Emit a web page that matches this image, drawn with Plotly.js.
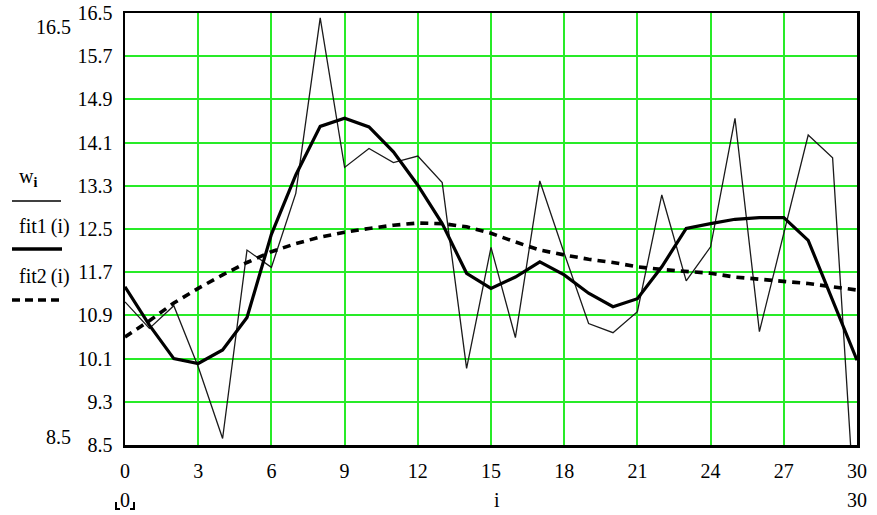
<!DOCTYPE html>
<html>
<head>
<meta charset="utf-8">
<script src="https://cdn.plot.ly/plotly-3.0.1.min.js"></script>
<style>html,body{margin:0;padding:0;background:#fff;}#chart{width:877px;height:515px;}</style>
</head>
<body>
<div id="chart"></div>
<script>
// ---- data ----
const idx = [0,1,2,3,4,5,6,7,8,9,10,11,12,13,14,15,16,17,18,19,20,21,22,23,24,25,26,27,28,29,30];
const w = [11.15,10.66,11.08,9.95,8.62,12.11,11.79,13.16,16.41,13.64,13.99,13.73,13.85,13.36,9.92,12.16,10.49,13.39,12.05,10.75,10.58,10.97,13.13,11.54,12.17,14.55,10.6,12.4,14.24,13.82,6.6];
const fit1 = [11.43,10.72,10.1,10.01,10.26,10.86,12.4,13.5,14.4,14.55,14.39,13.93,13.31,12.6,11.68,11.4,11.61,11.89,11.65,11.31,11.06,11.21,11.8,12.51,12.6,12.68,12.71,12.71,12.29,11.19,10.07];
const fit2 = [10.5,10.8,11.13,11.4,11.65,11.88,12.08,12.23,12.35,12.44,12.51,12.57,12.61,12.6,12.54,12.42,12.26,12.11,12.02,11.94,11.88,11.8,11.75,11.71,11.68,11.61,11.57,11.52,11.49,11.43,11.37];
const yTicks = [8.5,9.3,10.1,10.9,11.7,12.5,13.3,14.1,14.9,15.7,16.5];
const yTickText = ["8.5","9.3","10.1","10.9","11.7","12.5","13.3","14.1","14.9","15.7","16.5"];
const xTicks = [0,3,6,9,12,15,18,21,24,27,30];
const legendLabels = ["w<sub><b>i</b></sub>","fit1\u2009(i)","fit2\u2009(i)"];
const xLimits = ["0","30"];
const yLimits = ["16.5","8.5"];
const xName = "i";

// ---- layout helpers (pixel -> paper) ----
const L=125, R=857, T=13, B=445;
const px = x => (x-L)/(R-L);
const py = y => (B-y)/(B-T);
const FONT = "Liberation Serif";
const FS = 20;

const traces = [
  {x: idx, y: w, mode: 'lines', line: {color: '#1a1a1a', width: 1.3}, hoverinfo: 'skip'},
  {x: idx, y: fit1, mode: 'lines', line: {color: '#000', width: 3.2}, hoverinfo: 'skip'},
  {x: idx, y: fit2, mode: 'lines', line: {color: '#000', width: 3.6, dash: '8px,6px'}, hoverinfo: 'skip'}
];

const ann = (text, x, y, xa) => ({text, xref:'paper', yref:'paper', x: px(x), y: py(y), xanchor: xa, yanchor:'middle', showarrow:false, font:{family:FONT, size:FS, color:'#000'}});

const axisCommon = {
  showgrid: true, gridcolor: 'rgb(40,235,40)', gridwidth: 2,
  showline: true, linecolor: '#000', linewidth: 2.5, mirror: true,
  zeroline: false, ticks: '', ticklabelstandoff: 6,
  tickfont: {family: FONT, size: FS, color: '#000'}
};

const layout = {
  width: 877, height: 515,
  margin: {l: L, r: 877-R, t: T, b: 515-B},
  paper_bgcolor: '#fff', plot_bgcolor: '#fff',
  showlegend: false,
  font: {family: FONT, size: FS, color: '#000'},
  xaxis: Object.assign({range: [0, 30], tickvals: xTicks, ticktext: xTicks.map(String)}, axisCommon),
  yaxis: Object.assign({range: [8.5, 16.5], tickvals: yTicks, ticktext: yTickText}, axisCommon),
  annotations: [
    ann(yLimits[0], 53, 27, 'center'),
    ann(yLimits[1], 58, 437, 'center'),
    ann(legendLabels[0], 17, 177, 'left'),
    ann(legendLabels[1], 17, 226, 'left'),
    ann(legendLabels[2], 17, 276, 'left'),
    ann(xLimits[0], 125, 500, 'center'),
    ann(xName, 497, 500, 'center'),
    ann(xLimits[1], 857, 500, 'center')
  ],
  shapes: [
    {type:'line', xref:'paper', yref:'paper', x0:px(12), x1:px(61), y0:py(201), y1:py(201), line:{color:'#000', width:1.5}},
    {type:'line', xref:'paper', yref:'paper', x0:px(12), x1:px(62), y0:py(249), y1:py(249), line:{color:'#000', width:3.5}},
    {type:'line', xref:'paper', yref:'paper', x0:px(12), x1:px(60), y0:py(300), y1:py(300), line:{color:'#000', width:3.5, dash:'8px,5px'}},
    {type:'path', xref:'paper', yref:'paper', path:`M ${px(116)} ${py(502)} L ${px(116)} ${py(509)} L ${px(120)} ${py(509)}`, line:{color:'#000', width:2}},
    {type:'path', xref:'paper', yref:'paper', path:`M ${px(134)} ${py(502)} L ${px(134)} ${py(509)} L ${px(130)} ${py(509)}`, line:{color:'#000', width:2}}
  ]
};

Plotly.newPlot('chart', traces, layout, {staticPlot: true, displayModeBar: false});
</script>
</body>
</html>
